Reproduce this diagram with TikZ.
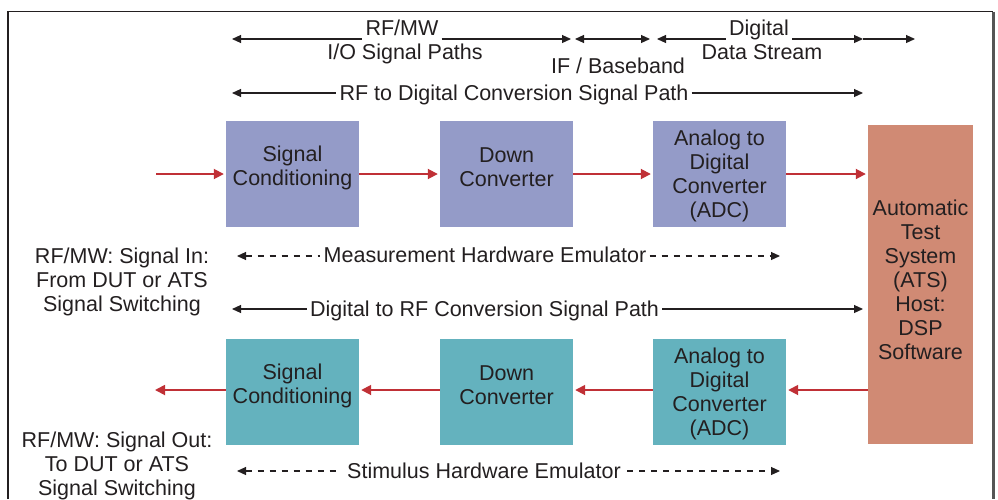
\documentclass[tikz,border=0pt]{standalone}
\usepackage{fontspec}
\setmainfont{Liberation Sans}
\usetikzlibrary{arrows.meta}
\definecolor{measfill}{RGB}{148,155,200}
\definecolor{stimfill}{RGB}{100,178,190}
\definecolor{atsfill}{RGB}{208,138,116}
\definecolor{sigred}{RGB}{192,48,54}
\definecolor{ink}{RGB}{35,31,32}
\definecolor{framegray}{RGB}{85,85,85}

\begin{document}
\begin{tikzpicture}[x=1pt,y=-1pt,
  font=\fontsize{21.5}{24}\selectfont, text=ink,
  block/.style={minimum width=133pt, minimum height=106pt, inner sep=0pt},
  meas/.style={block, fill=measfill},
  stim/.style={block, fill=stimfill},
  btext/.style={align=center, inner sep=0pt},
  sig/.style={draw=sigred, line width=1.8pt, shorten >=2pt,
              -{Triangle[length=10pt,width=10pt]}},
  dim/.style={draw=ink, line width=1.1pt},
  tipR/.style={-{Triangle[length=9pt,width=8pt]}},
  tipL/.style={{Triangle[length=9pt,width=8pt]}-},
  tipLR/.style={{Triangle[length=9pt,width=8pt]}-{Triangle[length=9pt,width=8pt]}},
  dashy/.style={dim, dash pattern=on 6pt off 6pt},
  lbl/.style={inner xsep=3pt, inner ysep=0pt, align=center}
]
\useasboundingbox (0,0) rectangle (998,499);

% outer frame (open at the bottom)
\draw[line width=1.5pt, ink] (8,499) -- (8,11.5) -- (993,11.5);
\draw[line width=3pt, framegray] (993,11.5) -- (993,499);

% measurement chain
\node[meas] (sc1)  at (292.5,174) {};
\node[meas] (dc1)  at (506.5,174) {};
\node[meas] (adc1) at (719.5,174) {};
\node[btext] (sc1t)  at (292.5,168) {Signal\\Conditioning};
\node[btext] (dc1t)  at (506.5,167) {Down\\Converter};
\node[btext] (adc1t) at (719.5,176) {Analog to\\Digital\\Converter\\(ADC)};

% stimulus chain
\node[stim] (sc2)  at (292.5,392) {};
\node[stim] (dc2)  at (506.5,392) {};
\node[stim] (adc2) at (719.5,392) {};
\node[btext] (sc2t)  at (292.5,386) {Signal\\Conditioning};
\node[btext] (dc2t)  at (506.5,385) {Down\\Converter};
\node[btext] (adc2t) at (719.5,394) {Analog to\\Digital\\Converter\\(ADC)};

% host
\node[fill=atsfill, minimum width=105pt, minimum height=319pt, inner sep=0pt] (ats) at (920.5,284.5) {};
\node[btext] (atstext) at (920.5,280) {Automatic\\Test\\System\\(ATS)\\Host:\\DSP\\Software};

% signal flow
\coordinate (in)  at (156,174);
\coordinate (out) at (153,390);
\draw[sig] (in) -- (sc1);
\draw[sig] (sc1) -- (dc1);
\draw[sig] (dc1) -- (adc1);
\draw[sig] (adc1) -- (adc1 -| ats.west);
\draw[sig] ([yshift=2pt]ats.west |- adc2) -- ([yshift=2pt]adc2.east);
\draw[sig] ([yshift=2pt]adc2.west) -- ([yshift=2pt]dc2.east);
\draw[sig] ([yshift=2pt]dc2.west) -- ([yshift=2pt]sc2.east);
\draw[sig] ([yshift=2pt]sc2.west) -- (out);

% side labels
\node[btext] (sigin)  at (122,282) {RF/MW: Signal In:\\From DUT or ATS\\Signal Switching};
\node[btext] (sigout) at (117,466) {RF/MW: Signal Out:\\To DUT or ATS\\Signal Switching};

% top span markers
\coordinate (r1a) at (232,39);
\coordinate (r1b) at (571,39);
\node[lbl, anchor=base] (rfmw) at (402,35) {RF/MW};
\node[lbl, anchor=base] (iosp) at (405,59) {I/O Signal Paths};
\draw[dim,tipL] (r1a) -- (r1a -| rfmw.west);
\draw[dim,tipR] (rfmw.east |- r1a) -- (r1b);

\coordinate (ifa) at (575,39);
\coordinate (ifb) at (650,39);
\draw[dim,tipLR] (ifa) -- (ifb);
\node[lbl, anchor=base] (ifbb) at (618,73) {IF / Baseband};

\coordinate (dga) at (657,39);
\coordinate (dgb) at (863,39);
\coordinate (dgc) at (915,39);
\node[lbl, anchor=base] (dig) at (759,35) {Digital};
\node[lbl, anchor=base] (dstr) at (762,59) {Data Stream};
\draw[dim,tipL] (dga) -- (dga -| dig.west);
\draw[dim,tipR] (dig.east |- dga) -- (dgb);
\draw[dim,tipR] (dgb) -- (dgc);

% conversion path markers
\coordinate (cpa) at (232,93);
\coordinate (cpb) at (863,93);
\node[lbl, anchor=base] (rf2dig) at (514,100) {RF to Digital Conversion Signal Path};
\draw[dim,tipL] (cpa) -- (cpa -| rf2dig.west);
\draw[dim,tipR] (rf2dig.east |- cpa) -- (cpb);

\coordinate (dpa) at (232,309);
\coordinate (dpb) at (863,309);
\node[lbl, anchor=base] (dig2rf) at (484.5,316) {Digital to RF Conversion Signal Path};
\draw[dim,tipL] (dpa) -- (dpa -| dig2rf.west);
\draw[dim,tipR] (dig2rf.east |- dpa) -- (dpb);

% hardware emulator spans
\coordinate (mea) at (237,256);
\coordinate (meb) at (780,256);
\node[lbl, anchor=base] (meas) at (485,262) {Measurement Hardware Emulator};
\draw[dashy,tipL] (mea) -- (mea -| meas.west);
\draw[dashy,tipR] (meas.east |- mea) -- (meb);

\coordinate (sta) at (237,471);
\coordinate (stb) at (780,471);
\node[lbl, anchor=base, inner xsep=6pt] (stim) at (484,478) {Stimulus Hardware Emulator};
\draw[dashy,tipL] (sta) -- (sta -| stim.west);
\draw[dashy,tipR] (stim.east |- sta) -- (stb);
\end{tikzpicture}
\end{document}
